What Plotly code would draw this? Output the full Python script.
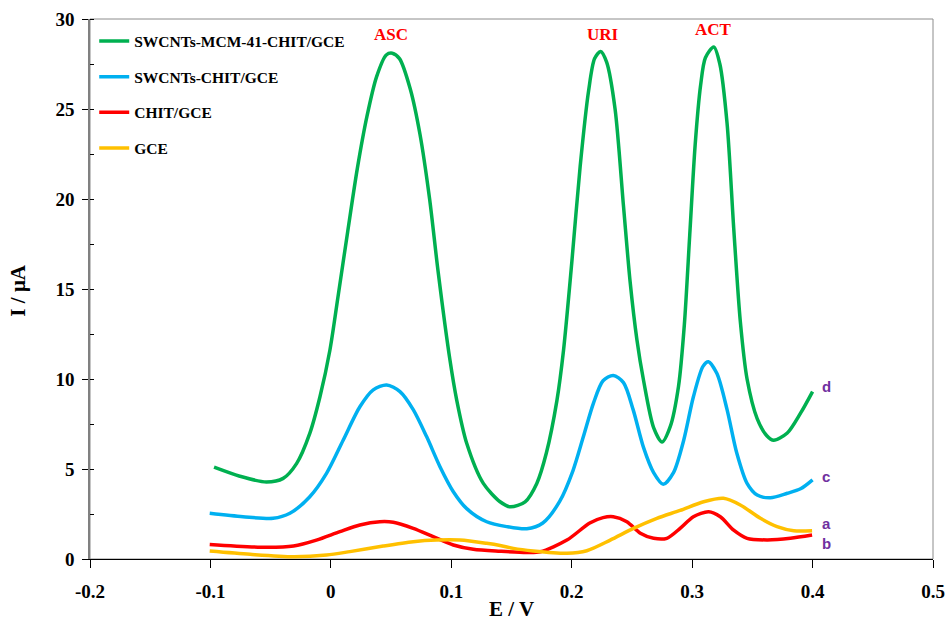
import plotly.graph_objects as go

# ---- data ----
E_d = [-0.097, -0.0756, -0.0535, -0.0396, -0.0285, -0.0175, -0.0091, -0.0008, 0.006, 0.014, 0.022,
       0.030, 0.038, 0.046, 0.051, 0.057, 0.066, 0.074, 0.082, 0.089, 0.0989, 0.1045, 0.1128,
       0.1266, 0.1405, 0.149, 0.1613, 0.171, 0.179, 0.1877, 0.1932, 0.2001, 0.207, 0.214, 0.219,
       0.224, 0.229, 0.236, 0.243, 0.2485, 0.2541, 0.2597, 0.268, 0.275, 0.2818, 0.2887, 0.2935,
       0.298, 0.3025, 0.307, 0.311, 0.318, 0.323, 0.329, 0.3345, 0.340, 0.3456, 0.354, 0.362,
       0.3677, 0.379, 0.390, 0.400]
I_d = [5.1, 4.6, 4.28, 4.48, 5.3, 6.98, 9.0, 11.6, 14.6, 18.2, 21.7,
       24.6, 26.8, 28.0, 28.1, 27.8, 26.1, 23.6, 20.0, 16.0, 11.05, 8.83, 6.43,
       4.2, 3.18, 2.9, 3.18, 4.2, 5.9, 8.8, 11.6, 16.5, 21.8, 26.0, 27.8,
       28.2, 27.6, 25.0, 19.6, 15.4, 12.2, 9.9, 7.3, 6.5, 7.35, 9.6, 13.0,
       18.0, 23.0, 26.3, 27.85, 28.45, 27.5, 24.2, 18.4, 13.2, 10.0, 7.8, 6.85,
       6.6, 7.0, 8.1, 9.3]

E_c = [-0.1006, -0.073, -0.048, -0.034, -0.0175, -0.0036, 0.0102, 0.0241, 0.0352, 0.0463, 0.0574,
       0.0684, 0.0795, 0.0906, 0.1017, 0.1128, 0.1294, 0.146, 0.1627, 0.176, 0.190, 0.201,
       0.2097, 0.218, 0.226, 0.2345, 0.243, 0.251, 0.2596, 0.268, 0.276, 0.2845, 0.293, 0.301,
       0.309, 0.3135, 0.3206, 0.329, 0.337, 0.3456, 0.354, 0.365, 0.379, 0.390, 0.400]
I_c = [2.54, 2.35, 2.26, 2.54, 3.46, 4.76, 6.6, 8.46, 9.4, 9.67, 9.3,
       8.3, 6.8, 5.13, 3.74, 2.8, 2.07, 1.8, 1.68, 2.0, 3.2, 4.9,
       6.8, 8.65, 9.9, 10.2, 9.8, 8.3, 6.2, 4.8, 4.15, 4.8, 6.6, 9.0,
       10.7, 10.96, 10.3, 8.3, 5.9, 4.2, 3.55, 3.4, 3.65, 3.9, 4.4]

E_b = [-0.1006, -0.0535, -0.031, -0.012, 0.0075, 0.0241, 0.0407, 0.0518, 0.0684, 0.085, 0.1017,
       0.1183, 0.1405, 0.1627, 0.174, 0.196, 0.215, 0.226, 0.2345, 0.2458, 0.257, 0.268, 0.279,
       0.290, 0.301, 0.3137, 0.3234, 0.3345, 0.3456, 0.3622, 0.3816, 0.3996]
I_b = [0.81, 0.65, 0.72, 1.05, 1.52, 1.89, 2.07, 2.04, 1.7, 1.24, 0.78,
       0.54, 0.43, 0.36, 0.4, 1.05, 2.0, 2.3, 2.35, 2.07, 1.43, 1.15, 1.15,
       1.7, 2.35, 2.63, 2.35, 1.6, 1.15, 1.06, 1.15, 1.33]

E_a = [-0.1006, -0.067, -0.031, -0.0036, 0.0158, 0.0435, 0.0684, 0.0878, 0.1072, 0.1294, 0.1405,
       0.1516, 0.168, 0.196, 0.2125, 0.232, 0.2513, 0.2707, 0.290, 0.3095, 0.326, 0.340, 0.3567,
       0.3705, 0.3844, 0.3996]
I_a = [0.44, 0.26, 0.13, 0.22, 0.41, 0.72, 0.96, 1.05, 1.05, 0.87, 0.75,
       0.59, 0.45, 0.32, 0.46, 1.05, 1.7, 2.26, 2.7, 3.18, 3.37, 3.0, 2.26,
       1.8, 1.57, 1.57]

names = ["SWCNTs-MCM-41-CHIT/GCE", "SWCNTs-CHIT/GCE", "CHIT/GCE", "GCE"]
colors = ["#00B050", "#00B0F0", "#FF0000", "#FFC000"]

peak_labels = ["ASC", "URI", "ACT"]
peak_E = [0.050, 0.226, 0.318]
peak_I = [29.15, 29.15, 29.4]

end_labels = ["d", "c", "a", "b"]
end_I = [9.6, 4.6, 2.0, 0.85]

x_ticks = [-0.2, -0.1, 0, 0.1, 0.2, 0.3, 0.4, 0.5]
x_ticktext = ["-0.2", "-0.1", "0", "0.1", "0.2", "0.3", "0.4", "0.5"]
y_ticks = [0, 5, 10, 15, 20, 25, 30]

x_title = "E / V"
y_title = "I / μA"

serif = "Liberation Serif"

fig = go.Figure()
series = [(E_d, I_d), (E_c, I_c), (E_b, I_b), (E_a, I_a)]
for i, ((xs, ys), nm, col) in enumerate(zip(series, names, colors)):
    fig.add_trace(go.Scatter(
        x=xs, y=ys, mode="lines", name=nm, legendgroup=f"g{i}",
        line=dict(color=col, width=3.5, shape="spline", smoothing=0.8),
    ))

for lab, ex, iy in zip(peak_labels, peak_E, peak_I):
    fig.add_annotation(x=ex, y=iy, text=lab, showarrow=False,
                       font=dict(family=serif, size=17, color="#FF0000", weight="bold"))

for lab, iy in zip(end_labels, end_I):
    fig.add_annotation(x=0.406, y=iy, text=lab, showarrow=False, xanchor="left",
                       font=dict(family="Liberation Sans", size=15, color="#7030A0", weight="bold"))

# axis titles
fig.add_annotation(x=0.5, y=-0.093, xref="paper", yref="paper", text=x_title, showarrow=False,
                   xanchor="center", yanchor="middle",
                   font=dict(family=serif, size=21, color="black", weight="bold"))
fig.add_annotation(x=-0.0854, y=0.497, xref="paper", yref="paper", text=y_title, showarrow=False,
                   xanchor="center", yanchor="middle", textangle=-90,
                   font=dict(family=serif, size=21, color="black", weight="bold"))

fig.add_shape(type="rect", xref="paper", yref="paper", x0=0, y0=0, x1=1, y1=1,
              line=dict(color="#8C8C8C", width=1), layer="below")

fig.update_layout(
    width=947, height=622,
    margin=dict(l=90, r=14, t=19, b=63),
    plot_bgcolor="white", paper_bgcolor="white",
    legend=dict(x=0.005, y=0.99, xanchor="left", yanchor="top",
                font=dict(family=serif, size=15.5, color="black", weight="bold"),
                tracegroupgap=12.5, bgcolor="rgba(0,0,0,0)", itemwidth=30),
    xaxis=dict(range=[-0.2, 0.5], tickvals=x_ticks, ticktext=x_ticktext, automargin=False,
               ticks="outside", ticklen=8, tickcolor="black", showline=True,
               linecolor="black", linewidth=1, showgrid=False, zeroline=False,
               ticklabelstandoff=7,
               tickfont=dict(family=serif, size=19, color="black", weight="bold")),
    yaxis=dict(range=[0, 30], tickvals=y_ticks, ticks="outside", ticklen=6, automargin=False,
               tickcolor="black", showline=True, linecolor="#808080", linewidth=1.5,
               showgrid=False, zeroline=False, ticklabelstandoff=4,
               minor=dict(ticks="inside", dtick=2.5, ticklen=4, tickcolor="black", showgrid=False),
               tickfont=dict(family=serif, size=19, color="black", weight="bold")),
)

fig.write_html("out.html")
